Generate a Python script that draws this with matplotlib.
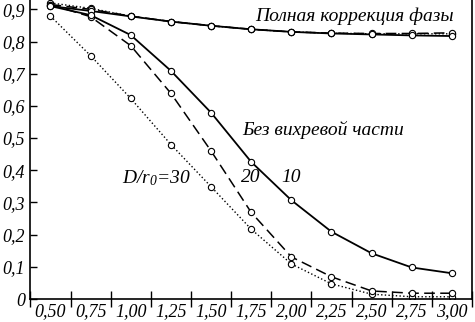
import matplotlib
matplotlib.use('Agg')
import matplotlib.pyplot as plt

plt.rcParams['font.family'] = ['Liberation Serif', 'DejaVu Serif']
plt.rcParams['font.style'] = 'italic'
plt.rcParams['mathtext.fontset'] = 'custom'
plt.rcParams['mathtext.it'] = 'Liberation Serif:italic'
plt.rcParams['mathtext.rm'] = 'Liberation Serif:italic'

# ось x
x = [0.50, 0.75, 1.00, 1.25, 1.50, 1.75, 2.00, 2.25, 2.50, 2.75, 3.00]
x_labels = ['0,50', '0,75', '1,00', '1,25', '1,50', '1,75', '2,00', '2,25', '2,50', '2,75', '3,00']

# полная коррекция фазы (D/r0 = 10, 20, 30)
full_10 = [0.910, 0.895, 0.878, 0.862, 0.849, 0.838, 0.830, 0.825, 0.822, 0.819, 0.817]
full_20 = [0.915, 0.900, 0.879, 0.862, 0.849, 0.838, 0.830, 0.826, 0.825, 0.825, 0.827]
full_30 = [0.920, 0.903, 0.879, 0.862, 0.849, 0.838, 0.830, 0.826, 0.824, 0.824, 0.824]

# без вихревой части
novort_10 = [0.910, 0.882, 0.820, 0.709, 0.579, 0.426, 0.307, 0.209, 0.142, 0.098, 0.080]
novort_20 = [0.915, 0.877, 0.787, 0.639, 0.460, 0.269, 0.131, 0.069, 0.025, 0.018, 0.018]
novort_30 = [0.879, 0.756, 0.623, 0.480, 0.349, 0.217, 0.109, 0.047, 0.015, 0.007, 0.007]

fig = plt.figure(figsize=(4.75, 3.22), dpi=100)
ax = fig.add_axes([0.064, 0.0714, 0.9297, 0.9286])

mk = dict(marker='o', markersize=4.5, markerfacecolor='white', markeredgecolor='black',
          markeredgewidth=0.8, color='black')

ax.plot(x, full_30, linestyle=':', linewidth=1.0, **mk)
ax.plot(x, full_20, linestyle=(0, (7, 3.5)), linewidth=1.1, **mk)
ax.plot(x, full_10, linestyle='-', linewidth=1.3, **mk)

ax.plot(x, novort_30, linestyle=':', linewidth=1.0, **mk)
ax.plot(x, novort_20, linestyle=(0, (7, 3.5)), linewidth=1.1, **mk)
ax.plot(x, novort_10, linestyle='-', linewidth=1.3, **mk)

ax.set_xlim(0.375, 3.125)
ax.set_ylim(0, 0.929)

# тики между подписями
ax.set_xticks([0.375 + 0.25 * i for i in range(12)])
ax.set_xticklabels([])
ax.set_xticks(x, minor=True)
ax.set_xticklabels(x_labels, minor=True, fontsize=13)
ax.tick_params(axis='x', which='major', direction='inout', length=11, width=1.0)
ax.tick_params(axis='x', which='minor', length=0, pad=3)

ax.set_yticks([0, 0.1, 0.2, 0.3, 0.4, 0.5, 0.6, 0.7, 0.8, 0.9])
ax.set_yticklabels(['0', '0,1', '0,2', '0,3', '0,4', '0,5', '0,6', '0,7', '0,8', '0,9'], fontsize=13)
ax.tick_params(axis='y', direction='in', length=5, width=1.0, pad=4)

ax.spines['top'].set_visible(False)
for s in ['left', 'bottom', 'right']:
    ax.spines[s].set_linewidth(1.2)

ax.text(3.011, 0.877, 'Полная коррекция фазы', fontsize=14, ha='right', va='center')
ax.text(1.697, 0.525, 'Без вихревой части', fontsize=14, ha='left', va='center')
ax.text(0.946, 0.376, r'$D/r_0$=30', fontsize=14, ha='left', va='center')
ax.text(1.684, 0.376, '20', fontsize=14, ha='left', va='center')
ax.text(1.938, 0.376, '10', fontsize=14, ha='left', va='center')

fig.savefig('out.png', dpi=100)
